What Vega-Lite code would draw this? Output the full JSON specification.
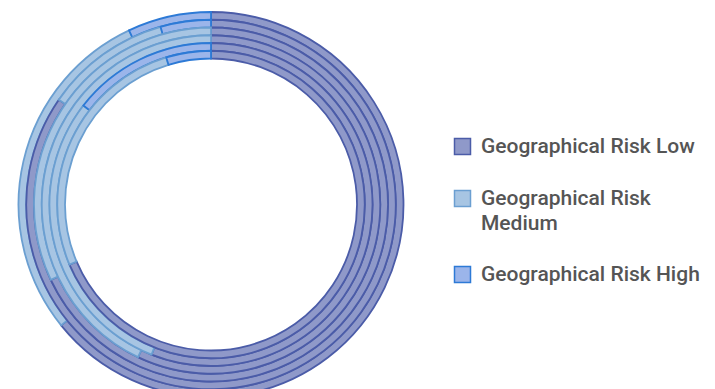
{
  "$schema": "https://vega.github.io/schema/vega-lite/v6.json",
  "width": 422,
  "height": 409,
  "padding": 0,
  "autosize": {"type": "pad"},
  "background": "white",
  "config": {"view": {"stroke": null}},
  "data": {
    "values": [
      {"ring": 1, "level": 1, "risk": "Geographical Risk Low", "value": 64.2},
      {"ring": 1, "level": 2, "risk": "Geographical Risk Medium", "value": 28.8},
      {"ring": 1, "level": 3, "risk": "Geographical Risk High", "value": 7.0},
      {"ring": 2, "level": 1, "risk": "Geographical Risk Low", "value": 84.6},
      {"ring": 2, "level": 2, "risk": "Geographical Risk Medium", "value": 11.0},
      {"ring": 2, "level": 3, "risk": "Geographical Risk High", "value": 4.4},
      {"ring": 3, "level": 1, "risk": "Geographical Risk Low", "value": 68.0},
      {"ring": 3, "level": 2, "risk": "Geographical Risk Medium", "value": 32.0},
      {"ring": 4, "level": 1, "risk": "Geographical Risk Low", "value": 57.1},
      {"ring": 4, "level": 2, "risk": "Geographical Risk Medium", "value": 42.9},
      {"ring": 5, "level": 1, "risk": "Geographical Risk Low", "value": 56.0},
      {"ring": 5, "level": 2, "risk": "Geographical Risk Medium", "value": 29.5},
      {"ring": 5, "level": 3, "risk": "Geographical Risk High", "value": 14.5},
      {"ring": 6, "level": 1, "risk": "Geographical Risk Low", "value": 68.6},
      {"ring": 6, "level": 2, "risk": "Geographical Risk Medium", "value": 26.7},
      {"ring": 6, "level": 3, "risk": "Geographical Risk High", "value": 4.7}
    ]
  },
  "transform": [
    {"stack": "value", "groupby": ["ring"], "sort": [{"field": "level", "order": "ascending"}], "as": ["v0", "v1"]}
  ],
  "mark": {"type": "arc", "strokeWidth": 1.8, "radius2Offset": -7.75},
  "encoding": {
    "theta": {"field": "v0", "type": "quantitative", "scale": {"domain": [0, 100]}},
    "theta2": {"field": "v1"},
    "radius": {"field": "ring", "type": "quantitative", "scale": {"type": "linear", "domain": [1, 6], "range": [192.5, 153.75], "zero": false}},
    "radius2": {"field": "ring"},
    "color": {
      "field": "risk",
      "type": "nominal",
      "scale": {
        "domain": ["Geographical Risk Low", "Geographical Risk Medium", "Geographical Risk High"],
        "range": ["#8f99c9", "#a7c5e3", "#9bb5ea"]
      },
      "legend": {
        "title": null,
        "orient": "none",
        "legendX": 452,
        "legendY": 136,
        "symbolType": "square",
        "symbolSize": 256,
        "symbolStrokeWidth": 1.5,
        "symbolOpacity": 1,
        "labelFont": "Roboto",
        "labelFontSize": 21,
        "labelFontWeight": 500,
        "labelColor": "#555555",
        "labelOffset": 8,
        "labelLimit": 300,
        "rowPadding": 29,
        "labelExpr": "datum.label == 'Geographical Risk Medium' ? ['Geographical Risk', 'Medium'] : datum.label",
        "encode": {
          "symbols": {"update": {"stroke": {"scale": "stroke", "field": "value"}}},
          "labels": {"update": {"lineHeight": {"value": 25}}}
        }
      }
    },
    "stroke": {
      "field": "risk",
      "type": "nominal",
      "scale": {
        "domain": ["Geographical Risk Low", "Geographical Risk Medium", "Geographical Risk High"],
        "range": ["#4b5ca8", "#6b9fd1", "#2d7ad6"]
      },
      "legend": null
    }
  }
}
